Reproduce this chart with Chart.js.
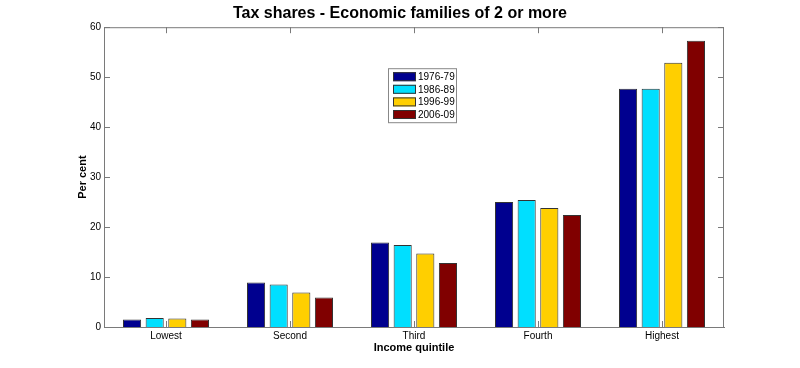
<!DOCTYPE html>
<html>
<head>
<meta charset="utf-8">
<script src="https://cdn.jsdelivr.net/npm/chart.js@4.4.1/dist/chart.umd.min.js"></script>
<style>
  body { margin: 0; background: #fff; }
  #wrap { width: 800px; height: 368px; }
</style>
</head>
<body>
<div id="wrap"><canvas id="taxChart" width="800" height="368"></canvas></div>
<script>
// data
var quintiles = ["Lowest", "Second", "Third", "Fourth", "Highest"];
var periods = ["1976-79", "1986-89", "1996-99", "2006-09"];
var share7679 = [1.5, 8.9, 16.9, 25.0, 47.7];
var share8689 = [1.8, 8.5, 16.4, 25.4, 47.7];
var share9699 = [1.7, 6.9, 14.7, 23.8, 52.9];
var share0609 = [1.5, 5.9, 12.8, 22.4, 57.3];
var yTicks = [0, 10, 20, 30, 40, 50, 60];

var barColors = ["#00008F", "#00DFFF", "#FFCF00", "#800000"];
var axisGray = "#7a7a7a";

// matlab style box, inward ticks and legend inside the axes
var matlabBox = {
    id: "matlabBox",
    afterDraw: function (chart) {
        var ctx = chart.ctx;
        var a = chart.chartArea;
        var xs = chart.scales.x, ys = chart.scales.y;
        ctx.save();
        ctx.strokeStyle = axisGray;
        ctx.lineWidth = 1;
        ctx.strokeRect(a.left + 0.5, a.top + 0.5, a.right - a.left - 1, a.bottom - a.top);
        ctx.beginPath();
        for (var i = 0; i < xs.ticks.length; i++) {
            var px = Math.round(xs.getPixelForTick(i)) + 0.5;
            ctx.moveTo(px, a.bottom); ctx.lineTo(px, a.bottom - 6);
            ctx.moveTo(px, a.top); ctx.lineTo(px, a.top + 6);
        }
        for (var j = 0; j < ys.ticks.length; j++) {
            var py = Math.round(ys.getPixelForTick(j)) + 0.5;
            ctx.moveTo(a.left, py); ctx.lineTo(a.left + 6, py);
            ctx.moveTo(a.right, py); ctx.lineTo(a.right - 6, py);
        }
        ctx.stroke();

        // legend
        var lx = a.left + 284, ly = a.top + 41;
        var w = 68, h = 54;
        ctx.fillStyle = "#fff";
        ctx.fillRect(lx, ly, w, h);
        ctx.strokeStyle = "#888";
        ctx.strokeRect(lx + 0.5, ly + 0.5, w, h);
        ctx.font = "10px 'Liberation Sans', Arial, sans-serif";
        ctx.textBaseline = "middle";
        chart.data.datasets.forEach(function (ds, k) {
            var ry = ly + 4 + k * 12.6;
            ctx.fillStyle = ds.backgroundColor;
            ctx.fillRect(lx + 5, ry, 23, 9);
            ctx.strokeStyle = "#333";
            ctx.strokeRect(lx + 5.5, ry + 0.5, 22, 8);
            ctx.fillStyle = "#000";
            ctx.fillText(ds.label, lx + 30, ry + 5);
        });
        ctx.restore();
    }
};

var seriesData = [share7679, share8689, share9699, share0609];
var datasets = periods.map(function (p, i) {
    return {
        label: p,
        data: seriesData[i],
        backgroundColor: barColors[i],
        borderColor: "#333",
        borderWidth: 1,
        categoryPercentage: 0.73,
        barPercentage: 0.8
    };
});

new Chart(document.getElementById("taxChart"), {
    type: "bar",
    data: { labels: quintiles, datasets: datasets },
    plugins: [matlabBox],
    options: {
        responsive: false,
        animation: false,
        layout: { padding: { left: 76, right: 76, top: 0, bottom: 0 } },
        plugins: {
            legend: { display: false },
            tooltip: { enabled: false },
            title: {
                display: true,
                text: "Tax shares - Economic families of 2 or more",
                color: "#000",
                font: { family: "'Liberation Sans', Arial, sans-serif", size: 16, weight: "bold" },
                padding: { top: 4, bottom: 4 }
            }
        },
        scales: {
            x: {
                grid: { display: false, drawTicks: false },
                border: { display: true, color: axisGray },
                ticks: { color: "#000", padding: 3, font: { family: "'Liberation Sans', Arial, sans-serif", size: 10 } },
                title: {
                    display: true, text: "Income quintile", color: "#000",
                    font: { family: "'Liberation Sans', Arial, sans-serif", size: 11, weight: "bold" },
                    padding: { top: 0, bottom: 13 }
                },
                afterFit: function (s) { s.height = 41; }
            },
            y: {
                min: 0, max: 60,
                grid: { display: false, drawTicks: false },
                border: { display: true, color: axisGray },
                afterBuildTicks: function (s) { s.ticks = yTicks.map(function (v) { return { value: v }; }); },
                ticks: { color: "#000", padding: 3, font: { family: "'Liberation Sans', Arial, sans-serif", size: 10 } },
                title: {
                    display: true, text: "Per cent", color: "#000",
                    font: { family: "'Liberation Sans', Arial, sans-serif", size: 11, weight: "bold" },
                    padding: { top: 0, bottom: 0 }
                },
                afterFit: function (s) { s.width = 28; }
            }
        }
    }
});
</script>
</body>
</html>
